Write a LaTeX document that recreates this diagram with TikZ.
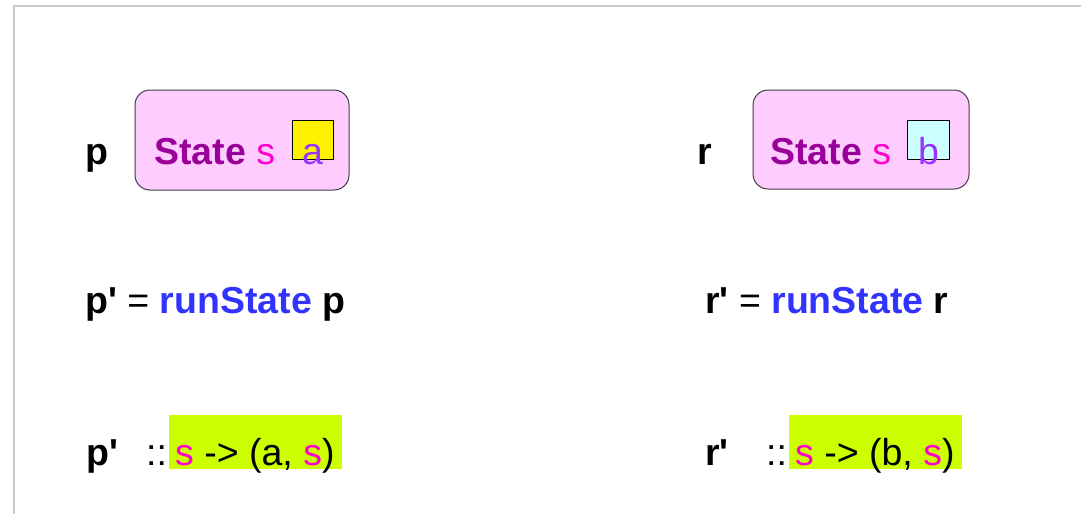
\documentclass[tikz,border=0pt]{standalone}
\usepackage{fontspec}
\setmainfont{Liberation Sans}
\definecolor{frame}{HTML}{C8C8C8}
\definecolor{boxfill}{HTML}{FFCCFF}
\definecolor{statec}{HTML}{990099}
\definecolor{sc}{HTML}{FF00CC}
\definecolor{varc}{HTML}{9933FF}
\definecolor{runc}{HTML}{3333FF}
\definecolor{lime}{HTML}{CCFF00}
\definecolor{cyanfill}{HTML}{CCFFFF}
\newcommand{\pr}{\textquotesingle}
\tikzset{
  txt/.style={anchor=base west, inner sep=0pt, font=\fontsize{37.5}{40}\selectfont},
  statebox/.style={draw=black!75, fill=boxfill, rounded corners=15pt, line width=1pt},
  sq/.style={draw=black, line width=0.8pt},
  hl/.style={fill=lime, draw=none}
}
\begin{document}
\begin{tikzpicture}[x=1pt,y=-1pt]
\useasboundingbox (0,0) rectangle (1081,514);
\coordinate (fa) at (14,514);
\coordinate (fb) at (14,6);
\coordinate (fc) at (1081,6);
\draw[frame, line width=1.2pt] (fa) -- (fb) -- (fc);
% left state box
\path[statebox] (135,90) rectangle (349,190);
\node[sq, fill=yellow, minimum width=41pt, minimum height=39pt, anchor=north west] (sqa) at (292,120) {};
\node[txt] (plab) at (85,164) {\textbf{p}};
\node[txt] (st1) at (154,164) {\textcolor{statec}{\textbf{State}} \textcolor{sc}{s}};
\node[txt] (va) at (302,164) {\textcolor{varc}{a}};
% right state box
\path[statebox] (753,90) rectangle (969,189);
\node[sq, fill=cyanfill, minimum width=42pt, minimum height=39pt, anchor=north west] (sqb) at (907,120) {};
\node[txt] (rlab) at (697,164) {\textbf{r}};
\node[txt] (st2) at (770,164) {\textcolor{statec}{\textbf{State}} \textcolor{sc}{s}};
\node[txt] (vb) at (918,164) {\textcolor{varc}{b}};
% row 2
\node[txt] (pp) at (85,313) {\textbf{p\pr} = \textcolor{runc}{\textbf{runState}} \textbf{p}};
\node[txt] (rr) at (705,313) {\textbf{r\pr} = \textcolor{runc}{\textbf{runState}} \textbf{r}};
% row 3
\path[hl] (169,415) rectangle (342,469);
\path[hl] (789,415) rectangle (962,469);
\node[txt] (pt) at (86,465) {\textbf{p\pr}};
\node[txt] (pc) at (146,465) {::};
\node[txt] (pty) at (175,465) {\textcolor{sc}{s} -> (a, \textcolor{sc}{s})};
\node[txt] (rt) at (705,465) {\textbf{r\pr}};
\node[txt] (rc) at (766,465) {::};
\node[txt] (rty) at (795,465) {\textcolor{sc}{s} -> (b, \textcolor{sc}{s})};
\end{tikzpicture}
\end{document}
